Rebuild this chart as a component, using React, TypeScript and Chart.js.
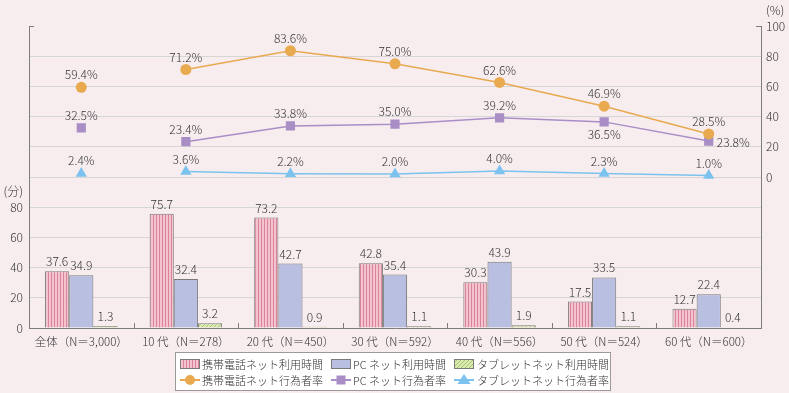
import React, { useEffect, useRef } from 'react';
import { Chart, registerables } from 'chart.js';

Chart.register(...registerables);

// ---------- data ----------
const categories = [
  '全体（N＝3,000）',
  '10 代（N＝278）',
  '20 代（N＝450）',
  '30 代（N＝592）',
  '40 代（N＝556）',
  '50 代（N＝524）',
  '60 代（N＝600）',
];
const mobileMinutes = [37.6, 75.7, 73.2, 42.8, 30.3, 17.5, 12.7];
const pcMinutes = [34.9, 32.4, 42.7, 35.4, 43.9, 33.5, 22.4];
const tabletMinutes = [1.3, 3.2, 0.9, 1.1, 1.9, 1.1, 0.4];
const mobileRate = [59.4, 71.2, 83.6, 75.0, 62.6, 46.9, 28.5];
const pcRate = [32.5, 23.4, 33.8, 35.0, 39.2, 36.5, 23.8];
const tabletRate = [2.4, 3.6, 2.2, 2.0, 4.0, 2.3, 1.0];
const seriesNames = [
  '携帯電話ネット利用時間',
  'PC ネット利用時間',
  'タブレットネット利用時間',
  '携帯電話ネット行為者率',
  'PC ネット行為者率',
  'タブレットネット行為者率',
];
const minuteAxisMax = 80; // left axis ticks shown up to 80 (分)
const unitMinutes = '(分)';
const unitPercent = '(%)';

// ---------- styles ----------
const BG = '#f7edef';
const FONT = '"Noto Sans CJK JP", "Noto Sans", sans-serif';
const W = 300;
const TEXT = '#333333';
const ORANGE = '#e8a94f';
const PURPLE = '#a98ec6';
const BLUE = '#7cc2ee';
const PC_FILL = '#b8bfe1';
const BAR_BORDER = '#7a7a7a';
const GRID = '#d6d6d6';
const AXIS = '#7d7d7d';

function makeStripe(): CanvasPattern | string {
  const c = document.createElement('canvas');
  c.width = 3;
  c.height = 2;
  const x = c.getContext('2d');
  if (!x) return '#f2bfca';
  x.fillStyle = '#f4c3ce';
  x.fillRect(0, 0, 3, 2);
  x.fillStyle = '#d8849a';
  x.fillRect(0, 0, 1, 2);
  return x.createPattern(c, 'repeat') || '#f2bfca';
}

function makeDots(): CanvasPattern | string {
  const c = document.createElement('canvas');
  c.width = 4;
  c.height = 4;
  const x = c.getContext('2d');
  if (!x) return '#d6e8a8';
  x.fillStyle = '#dcebb3';
  x.fillRect(0, 0, 4, 4);
  x.fillStyle = '#a3c266';
  x.fillRect(0, 0, 1, 1);
  x.fillRect(2, 2, 1, 1);
  x.fillRect(1, 3, 1, 1);
  x.fillRect(3, 1, 1, 1);
  return x.createPattern(c, 'repeat') || '#d6e8a8';
}

export default function App() {
  const ref = useRef<HTMLCanvasElement | null>(null);

  useEffect(() => {
    document.body.style.margin = '0';
    const canvas = ref.current;
    if (!canvas) return;
    const stripe = makeStripe();
    const dots = makeDots();

    const labelPlugin = {
      id: 'labels',
      afterDatasetsDraw(chart: any) {
        const ctx = chart.ctx;
        ctx.save();
        ctx.font = `${W} 12px ${FONT}`;
        ctx.fillStyle = TEXT;
        ctx.textBaseline = 'middle';
        chart.data.datasets.forEach((ds: any, di: number) => {
          const meta = chart.getDatasetMeta(di);
          meta.data.forEach((el: any, i: number) => {
            const v = ds.data[i];
            if (v == null) return;
            if (ds.type === 'line') {
              const pos = (ds.labelPos && ds.labelPos[i]) || 'above';
              const t = v.toFixed(1) + '%';
              if (pos === 'below') {
                ctx.textAlign = 'center';
                ctx.fillText(t, el.x, el.y + 12.5);
              } else if (pos === 'right') {
                ctx.textAlign = 'left';
                ctx.fillText(t, el.x + 8, el.y + 1.5);
              } else {
                ctx.textAlign = 'center';
                ctx.fillText(t, el.x, el.y - 12.5);
              }
            } else {
              ctx.textAlign = 'center';
              ctx.fillText(v.toFixed(1), el.x, el.y - 9.5);
            }
          });
        });
        ctx.restore();
      },
      afterDraw(chart: any) {
        const ctx = chart.ctx;
        const a = chart.chartArea;
        const xs = chart.scales.x;
        ctx.save();
        // inward ticks on category axis
        ctx.strokeStyle = AXIS;
        ctx.lineWidth = 1;
        ctx.beginPath();
        for (let i = 0; i < categories.length - 1; i++) {
          const px = Math.round((xs.getPixelForValue(i) + xs.getPixelForValue(i + 1)) / 2) + 0.5;
          ctx.moveTo(px, a.bottom - 5);
          ctx.lineTo(px, a.bottom);
        }
        // top ticks
        ctx.moveTo(a.left, Math.round(a.top) + 0.5);
        ctx.lineTo(a.left + 5, Math.round(a.top) + 0.5);
        ctx.moveTo(a.right - 5, Math.round(a.top) + 0.5);
        ctx.lineTo(a.right, Math.round(a.top) + 0.5);
        ctx.stroke();

        // unit labels
        ctx.font = `${W} 12px ${FONT}`;
        ctx.fillStyle = TEXT;
        ctx.textBaseline = 'middle';
        ctx.textAlign = 'right';
        const ys = chart.scales.y;
        ctx.fillText(unitMinutes, a.left - 6, (ys.getPixelForValue(80) + ys.getPixelForValue(100)) / 2 - 1);
        ctx.textAlign = 'left';
        ctx.fillText(unitPercent, a.right + 5, 10);

        // legend
        const bx = 175.5, by = 352.5, bw = 435, bh = 38;
        ctx.fillStyle = '#ffffff';
        ctx.fillRect(bx, by, bw, bh);
        ctx.strokeStyle = '#9a9a9a';
        ctx.strokeRect(bx, by, bw, bh);
        const cols = [180, 331, 454];
        const textX = [202, 353, 477];
        const row1 = 364, row2 = 380;
        const fills = [stripe, PC_FILL, dots];
        const lineCols = [ORANGE, PURPLE, BLUE];
        const shapes = ['circle', 'rect', 'triangle'];
        ctx.font = `${W} 11px ${FONT}`;
        for (let c = 0; c < 3; c++) {
          ctx.fillStyle = fills[c] as any;
          ctx.fillRect(cols[c] + 0.5, row1 - 4.5, 19, 9);
          ctx.strokeStyle = BAR_BORDER;
          ctx.strokeRect(cols[c] + 0.5, row1 - 4.5, 19, 9);
          ctx.strokeStyle = lineCols[c];
          ctx.lineWidth = 2;
          ctx.beginPath();
          ctx.moveTo(cols[c], row2);
          ctx.lineTo(cols[c] + 20, row2);
          ctx.stroke();
          ctx.lineWidth = 1;
          ctx.fillStyle = lineCols[c];
          const cx = cols[c] + 10;
          ctx.beginPath();
          if (shapes[c] === 'circle') {
            ctx.arc(cx, row2, 5, 0, Math.PI * 2);
          } else if (shapes[c] === 'rect') {
            ctx.rect(cx - 4.5, row2 - 4.5, 9, 9);
          } else {
            ctx.moveTo(cx, row2 - 6);
            ctx.lineTo(cx + 6.5, row2 + 4);
            ctx.lineTo(cx - 6.5, row2 + 4);
            ctx.closePath();
          }
          ctx.fill();
          ctx.fillStyle = TEXT;
          ctx.textAlign = 'left';
          ctx.fillText(seriesNames[c], textX[c], row1 + 0.5);
          ctx.fillText(seriesNames[c + 3], textX[c], row2 + 0.5);
        }
        ctx.restore();
      },
    };

    const hideFirst = (color: string) => ({
      borderColor: (c: any) => (c.p0DataIndex === 0 ? 'rgba(0,0,0,0)' : color),
    });

    const barCommon = {
      type: 'bar',
      yAxisID: 'y',
      borderColor: BAR_BORDER,
      borderWidth: 1,
      categoryPercentage: 0.693,
      barPercentage: 1,
      order: 2,
    };
    const lineCommon = {
      type: 'line',
      yAxisID: 'y2',
      borderWidth: 1.5,
      pointBorderWidth: 0,
      order: 0,
      fill: false,
      tension: 0,
    };

    const chart = new Chart(canvas, {
      type: 'bar',
      data: {
        labels: categories,
        datasets: [
          { ...barCommon, label: seriesNames[0], data: mobileMinutes, backgroundColor: stripe },
          { ...barCommon, label: seriesNames[1], data: pcMinutes, backgroundColor: PC_FILL },
          { ...barCommon, label: seriesNames[2], data: tabletMinutes, backgroundColor: dots },
          {
            ...lineCommon, label: seriesNames[3], data: mobileRate,
            borderColor: ORANGE, backgroundColor: ORANGE, pointBackgroundColor: ORANGE,
            pointStyle: 'circle', pointRadius: 5.5, segment: hideFirst(ORANGE),
          },
          {
            ...lineCommon, label: seriesNames[4], data: pcRate,
            borderColor: PURPLE, backgroundColor: PURPLE, pointBackgroundColor: PURPLE,
            pointStyle: 'rect', pointRadius: 6.5, segment: hideFirst(PURPLE),
            labelPos: ['above', 'above', 'above', 'above', 'above', 'below', 'right'],
          },
          {
            ...lineCommon, label: seriesNames[5], data: tabletRate,
            borderColor: BLUE, backgroundColor: BLUE, pointBackgroundColor: BLUE,
            pointStyle: 'triangle', pointRadius: 6.5, segment: hideFirst(BLUE),
          },
        ] as any,
      },
      options: {
        responsive: false,
        animation: false,
        devicePixelRatio: 1,
        layout: { padding: { top: 26, left: 0, right: 0, bottom: 0 } },
        plugins: { legend: { display: false }, tooltip: { enabled: false } },
        scales: {
          x: {
            offset: true,
            grid: { display: false, drawTicks: false },
            border: { display: true, color: AXIS, width: 1 },
            ticks: { color: TEXT, font: { family: FONT, size: 11.5, weight: W }, padding: 7, maxRotation: 0, autoSkip: false },
            afterFit: (s: any) => { s.height = 65; },
          },
          y: {
            position: 'left',
            min: 0,
            max: 200,
            grid: {
              drawTicks: false,
              color: (c: any) => (c.tick && (c.tick.value === 0 || c.tick.value === 200) ? 'rgba(0,0,0,0)' : GRID),
              lineWidth: 1,
            },
            border: { display: true, color: AXIS, width: 1 },
            ticks: {
              stepSize: 20,
              autoSkip: false,
              padding: 6,
              color: TEXT,
              font: { family: FONT, size: 12, weight: W },
              callback: (v: any) => (v <= minuteAxisMax ? String(v) : ''),
            },
            afterFit: (s: any) => { s.width = 29; },
          },
          y2: {
            position: 'right',
            min: -100,
            max: 100,
            grid: { display: false, drawTicks: false },
            border: { display: true, color: AXIS, width: 1 },
            ticks: {
              stepSize: 20,
              autoSkip: false,
              padding: 5,
              color: TEXT,
              font: { family: FONT, size: 12, weight: W },
              callback: (v: any) => (v >= 0 ? String(v) : ''),
            },
            afterFit: (s: any) => { s.width = 28; },
          },
        },
      } as any,
      plugins: [labelPlugin],
    });

    return () => chart.destroy();
  }, []);

  return (
    <div style={{ width: 789, height: 393, background: BG, position: 'relative' }}>
      <canvas ref={ref} width={789} height={393} style={{ display: 'block', width: 789, height: 393 }} />
    </div>
  );
}
